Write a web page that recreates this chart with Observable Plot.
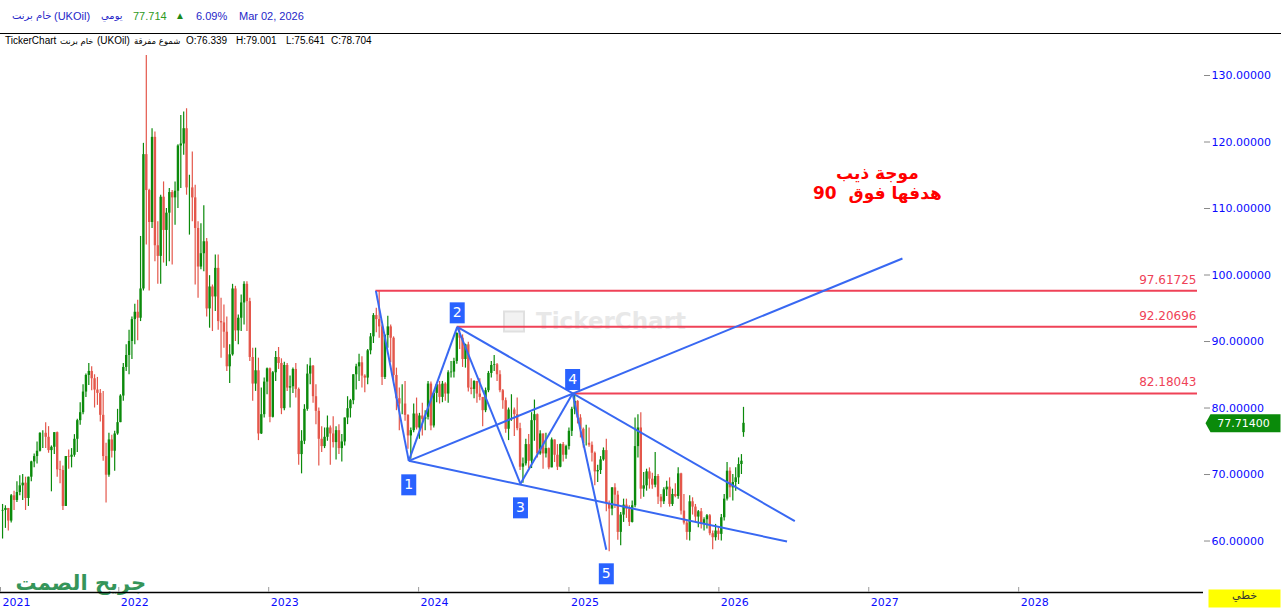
<!DOCTYPE html>
<html><head><meta charset="utf-8">
<script src="https://cdn.jsdelivr.net/npm/d3@7"></script>
<script src="https://cdn.jsdelivr.net/npm/@observablehq/plot@0.6"></script>
<style>
html,body{margin:0;padding:0;background:#fff;}
#hdr{position:relative;width:1281px;height:50px;font-family:"Liberation Sans","DejaVu Sans",sans-serif;overflow:hidden;background:#fff}
#hdr span{position:absolute;white-space:nowrap}
.r1{top:9px;font-size:11px;line-height:14px;color:#2626c8}
.r2{top:35px;font-size:10px;line-height:12px;color:#000}
.ar1{font-family:"DejaVu Sans";font-size:10px}
.ar2{font-family:"DejaVu Sans";font-size:8.5px}
#sep{position:absolute;left:0;top:33px;width:1281px;height:1px;background:#000}
#chart svg{display:block}
</style></head><body>
<div id="hdr">
  <span class="r1 ar1" style="left:12px">خام برنت</span>
  <span class="r1" style="left:54px">(UKOil)</span>
  <span class="r1 ar1" style="left:101px">يومي</span>
  <span class="r1" style="left:133px;color:#2e9a1e">77.714</span>
  <span class="r1" style="left:175px;color:#1a8a1a;font-size:10px">▲</span>
  <span class="r1" style="left:196px">6.09%</span>
  <span class="r1" style="left:239px">Mar 02, 2026</span>
  <div id="sep"></div>
  <span class="r2" style="left:5px">TickerChart</span>
  <span class="r2 ar2" style="left:60px">خام برنت</span>
  <span class="r2" style="left:97px">(UKOil)</span>
  <span class="r2 ar2" style="left:134px">شموع مفرقة</span>
  <span class="r2" style="left:186px">O:76.339</span>
  <span class="r2" style="left:236px">H:79.001</span>
  <span class="r2" style="left:286px">L:75.641</span>
  <span class="r2" style="left:331px">C:78.704</span>
</div>
<div id="chart"></div>
<script>
// ---- Weekly candles (Monday of each week), UKOil ----
const weekStart = "2021-03-22";
const weekOpen = [
 64.5,64.6,64.9,63.0,66.8,66.1,67.3,68.3,68.7,66.4,69.6,71.9,72.7,73.5,76.2,76.2,75.6,73.6,74.1,76.3,70.7,70.6,65.2,72.7,72.6,72.9,75.3,78.1,79.3,82.4,84.9,85.5,84.4,82.7,82.2,78.9,72.7,69.9,75.2,73.5,76.1,
 77.8,81.8,86.1,87.9,90.0,93.3,94.4,93.5,97.9,118.1,112.7,107.9,120.7,104.4,102.8,111.7,106.7,109.3,112.4,111.6,112.6,119.4,119.7,122.0,113.1,113.1,111.6,107.0,101.2,103.2,105.0,94.9,98.2,96.7,101.0,93.0,92.8,91.4,86.2,88.0,97.9,91.6,93.5,95.8,98.6,96.0,87.6,83.6,85.6,76.1,79.0,83.9,
 85.9,78.6,85.3,87.6,86.7,79.9,86.4,83.0,83.2,85.8,82.8,73.0,75.0,79.8,85.1,86.3,81.7,79.5,75.3,74.2,75.6,77.0,76.1,74.8,76.6,73.9,74.9,78.5,79.9,81.1,85.0,86.2,86.8,84.8,84.5,88.6,90.7,93.9,93.3,92.2,84.6,90.9,92.2,90.5,84.9,81.4,80.6,80.6,78.9,75.8,76.6,79.1,
 77.0,78.8,78.3,78.6,83.6,77.3,82.2,83.5,81.6,83.6,82.1,85.3,85.4,87.0,91.2,90.5,87.3,89.5,83.0,82.8,84.0,82.1,81.6,79.6,82.6,85.2,86.4,86.5,85.0,82.6,81.1,76.8,79.7,79.7,79.0,76.9,71.1,71.6,74.5,72.0,78.1,79.0,73.1,76.1,73.1,73.9,71.0,75.2,72.9,71.1,74.5,72.9,74.2,
 76.5,79.8,81.0,78.5,76.8,74.7,74.7,74.4,73.2,70.4,70.6,72.2,73.6,65.6,64.8,68.0,66.9,61.3,63.9,65.4,64.8,62.8,65.3,74.2,77.0,67.8,68.3,70.4,69.3,68.4,69.7,66.6,65.9,67.7,68.1,65.5,67.0,66.7,70.1,64.5,62.7,61.3,65.9,65.1,63.6,64.4,62.6,63.2,63.8,61.1,60.5,61.5,
 61.0,63.5,66.3,70.5,68.0,68.8,69.5,71.5,76.3
];
const weekHigh = [
 65.5,65.3,64.9,67.0,67.5,68.9,69.8,70.0,69.6,69.6,72.0,73.1,74.9,76.3,76.6,77.8,77.2,74.3,76.3,76.4,72.0,71.3,72.7,73.7,73.9,76.0,78.3,80.8,83.5,85.1,86.7,86.2,85.0,84.6,82.8,82.5,74.7,76.2,75.9,76.5,79.8,
 82.0,86.7,89.5,91.7,93.7,95.6,96.2,105.8,119.8,133.0,112.9,122.0,121.5,108.0,112.0,114.0,110.0,113.0,112.7,114.0,119.6,124.0,124.5,125.0,115.0,118.5,113.5,108.0,107.7,110.4,105.5,99.9,98.5,103.0,103.0,96.5,95.5,93.7,89.5,98.6,98.3,94.0,97.0,99.0,99.0,96.5,89.0,89.0,87.5,83.0,84.5,86.0,
 86.0,85.5,88.5,89.1,87.4,86.9,86.7,84.8,86.0,86.7,83.0,76.6,80.5,86.5,87.5,86.4,83.5,80.0,77.2,77.0,78.8,77.3,78.7,77.2,77.5,76.0,78.5,81.7,81.3,85.0,86.6,88.1,87.7,85.0,88.8,91.2,94.2,95.0,97.6,92.5,91.0,93.8,92.5,90.7,86.0,83.0,83.5,84.0,79.0,77.0,80.6,81.5,
 79.2,80.7,79.6,84.0,83.9,82.3,83.6,84.0,84.0,83.8,85.6,87.0,87.5,91.3,92.2,91.0,89.6,89.9,84.4,84.1,84.0,84.4,81.6,83.0,85.5,87.0,87.9,86.7,85.6,82.8,81.5,80.0,82.0,80.0,81.5,77.7,72.5,75.3,76.0,79.3,81.2,79.1,76.6,76.1,76.2,74.0,75.5,75.2,74.5,74.6,74.8,74.4,77.0,
 80.1,82.2,81.1,79.0,77.0,77.4,77.0,74.9,73.4,71.4,72.7,74.0,75.3,66.0,68.0,68.6,67.5,64.3,66.3,66.3,65.3,66.0,78.5,79.0,79.3,70.3,70.8,71.0,70.2,73.3,70.0,67.0,68.0,69.0,69.5,67.8,68.6,71.0,70.2,67.0,63.0,66.8,66.5,65.5,64.6,64.9,63.5,64.0,64.0,61.5,62.5,62.0,
 64.0,67.0,71.8,71.0,70.0,71.0,72.5,73.0,80.1
];
const weekLow = [
 60.3,61.9,61.5,62.7,64.6,65.8,66.8,66.1,64.6,65.2,68.9,71.0,71.6,73.4,73.9,73.9,73.2,67.4,73.0,69.6,68.6,64.6,65.2,70.8,71.0,72.6,73.3,77.4,79.0,81.6,83.4,82.6,80.0,80.4,77.9,72.0,65.7,69.6,72.5,70.5,75.9,
 77.8,81.0,85.5,85.0,87.3,89.5,90.1,93.0,97.6,104.5,97.6,107.0,102.0,98.6,98.6,101.8,101.3,102.0,101.5,107.5,110.0,113.0,118.0,112.0,106.0,108.0,98.5,96.5,100.8,100.5,93.7,92.0,91.5,94.5,91.7,87.5,89.0,85.5,83.7,87.8,90.0,89.5,91.5,92.5,91.5,87.0,81.0,82.5,75.1,76.0,78.5,82.0,
 77.8,78.5,84.0,85.8,79.0,79.6,82.5,80.0,82.2,81.5,71.4,70.1,74.5,79.5,83.5,80.7,77.5,71.3,73.3,73.9,75.0,71.4,74.0,72.2,73.0,71.9,74.3,77.5,78.5,80.5,82.7,84.0,83.0,82.3,83.5,88.0,89.7,91.3,90.5,83.4,84.3,89.0,86.8,84.0,79.6,76.6,79.0,78.0,73.8,72.3,76.3,76.7,
 75.3,75.8,76.6,78.2,76.6,77.0,80.8,80.6,80.8,81.0,80.7,84.5,84.5,86.6,88.8,86.1,86.0,82.4,82.0,81.4,80.7,81.1,77.2,79.3,82.3,84.5,85.5,84.0,82.3,79.8,76.2,75.1,78.0,75.7,76.6,70.6,68.7,71.3,70.9,70.9,75.0,72.5,72.9,70.8,72.5,70.7,71.0,71.8,70.6,71.0,71.9,72.3,73.7,
 75.7,79.0,77.6,75.5,74.0,74.3,74.1,71.9,68.3,68.8,70.0,72.0,64.4,58.4,63.8,64.9,60.1,59.3,62.8,63.4,62.2,62.7,65.0,72.5,66.3,66.6,67.5,67.8,67.8,68.0,65.5,65.0,65.5,66.7,65.1,65.2,66.5,66.3,63.9,62.4,60.1,60.0,63.9,62.8,62.0,61.8,61.5,61.8,60.8,58.7,60.0,60.1,
 60.0,63.0,66.0,66.5,66.0,67.5,68.5,70.0,75.6
];
const weekClose = [
 64.6,64.9,63.0,66.8,66.1,67.3,68.3,68.7,66.4,69.6,71.9,72.7,73.5,76.2,76.2,75.6,73.6,74.1,76.3,70.7,70.6,65.2,72.7,72.6,72.9,75.3,78.1,79.3,82.4,84.9,85.5,84.4,82.7,82.2,78.9,72.7,69.9,75.2,73.5,76.1,77.8,
 81.8,86.1,87.9,90.0,93.3,94.4,93.5,97.9,118.1,112.7,107.9,120.7,104.4,102.8,111.7,106.7,109.3,112.4,111.6,112.6,119.4,119.7,122.0,113.1,113.1,111.6,107.0,101.2,103.2,105.0,94.9,98.2,96.7,101.0,93.0,92.8,91.4,86.2,88.0,97.9,91.6,93.5,95.8,98.6,96.0,87.6,83.6,85.6,76.1,79.0,83.9,85.9,
 78.6,85.3,87.6,86.7,79.9,86.4,83.0,83.2,85.8,82.8,73.0,75.0,79.8,85.1,86.3,81.7,79.5,75.3,74.2,75.6,77.0,76.1,74.8,76.6,73.9,74.9,78.5,79.9,81.1,85.0,86.2,86.8,84.8,84.5,88.6,90.7,93.9,93.3,92.2,84.6,90.9,92.2,90.5,84.9,81.4,80.6,80.6,78.9,75.8,76.6,79.1,77.0,
 78.8,78.3,78.6,83.6,77.3,82.2,83.5,81.6,83.6,82.1,85.3,85.4,87.0,91.2,90.5,87.3,89.5,83.0,82.8,84.0,82.1,81.6,79.6,82.6,85.2,86.4,86.5,85.0,82.6,81.1,76.8,79.7,79.7,79.0,76.9,71.1,71.6,74.5,72.0,78.1,79.0,73.1,76.1,73.1,73.9,71.0,75.2,72.9,71.1,74.5,72.9,74.2,76.5,
 79.8,81.0,78.5,76.8,74.7,74.7,74.4,73.2,70.4,70.6,72.2,73.6,65.6,64.8,68.0,66.9,61.3,63.9,65.4,64.8,62.8,65.3,74.2,77.0,67.8,68.3,70.4,69.3,68.4,69.7,66.6,65.9,67.7,68.1,65.5,67.0,66.7,70.1,64.5,62.7,61.3,65.9,65.1,63.6,64.4,62.6,63.2,63.8,61.1,60.5,61.5,61.0,
 63.5,66.3,70.5,68.0,68.8,69.5,71.5,72.0,77.7
];

// ---- Wolfe wave drawing ----
const waveLabels = ["0", "1", "2", "3", "4", "5"];
const waveDates  = ["2023-09-19", "2023-12-08", "2024-04-04", "2024-09-05", "2025-01-10", "2025-04-02"];
const waveValues = [97.61725, 72.06, 92.20696, 68.6, 82.18043, 58.68];
// extension end points: 1-4 line, 2-4 line, 1-3 line
const extDates  = ["2027-03-24", "2026-07-05", "2026-06-16"];
const extValues = [102.48, 62.98, 59.93];
const levelValues = [97.61725, 92.20696, 82.18043];

const yTicks = [60, 70, 80, 90, 100, 110, 120, 130];
const tickYears = ["2022", "2023", "2024", "2025", "2026", "2027", "2028"];
const currentPrice = 77.714;
const noteText = "موجة ذيب\nهدفها فوق  90";
const noteDate = "2027-01-22", noteValue = 113.9;
const signature = "جريح الصمت";
const chartTypeLabel = "خطي";

// ---- build ----
const DAY = 864e5;
const t0 = Date.parse(weekStart + "T00:00:00Z");
const n = weekOpen.length;
if (![weekHigh, weekLow, weekClose].every(a => a.length === n)) console.error("length mismatch");
const candles = weekOpen.map((o, i) => ({
  date: new Date(t0 + i * 7 * DAY + (i < n - 1 ? 2 * DAY : 0)),
  open: o, high: weekHigh[i], low: weekLow[i], close: weekClose[i]
}));
const utc = s => new Date(s + "T00:00:00Z");
const pts = waveDates.map((d, i) => ({label: waveLabels[i], date: utc(d), value: waveValues[i]}));
const ext = extDates.map((d, i) => ({date: utc(d), value: extValues[i]}));
const segs = [[pts[0], pts[1]], [pts[1], pts[2]], [pts[2], pts[3]], [pts[3], pts[4]], [pts[4], pts[5]],
              [pts[1], ext[0]], [pts[2], ext[1]], [pts[1], ext[2]]];
const levels = levelValues.map((v, i) => ({value: v, date: pts[i * 2].date}));
const troughs = pts.filter((d, i) => i % 2 === 1);
const peaks = pts.filter((d, i) => i > 0 && i % 2 === 0);

const xDomain = [utc("2021-03-19"), utc("2029-03-26")];
const yDomain = [52.26, 133.76];
const xTicks = [xDomain[0], ...tickYears.map(y => utc(y + "-01-01"))];

const UP = "#0b8a0b", DOWN = "#e4574b", BLUE = "#3868f2", RED = "#ef4257", BOX = "#2962ff";
const rectSymbol = (w, h) => ({draw(ctx) { ctx.moveTo(-w/2, -h/2); ctx.lineTo(w/2, -h/2); ctx.lineTo(w/2, h/2); ctx.lineTo(-w/2, h/2); ctx.closePath(); }});
const tagSymbol = {draw(ctx) { ctx.moveTo(0, 0); ctx.lineTo(5, -9); ctx.lineTo(75, -9); ctx.lineTo(75, 9); ctx.lineTo(5, 9); ctx.closePath(); }};
const col = d => d.close >= d.open ? UP : DOWN;

const chart = Plot.plot({
  width: 1281, height: 562,
  marginLeft: 0, marginRight: 78, marginTop: 0, marginBottom: 20,
  style: {fontFamily: "DejaVu Sans", fontSize: "11px", background: "#fff", overflow: "visible"},
  x: {type: "utc", domain: xDomain},
  y: {domain: yDomain},
  marks: [
    // TickerChart watermark
    Plot.dot([0], {frameAnchor: "middle", dx: -88, r: 5, symbol: rectSymbol(20, 20), fill: "#f2f2f2", stroke: "#e0e0e0", strokeWidth: 2}),
    Plot.text(["TickerChart"], {frameAnchor: "middle", dx: 9, textAnchor: "middle", fontSize: 23, fontWeight: "bold", fill: "#e8e8e8"}),
    // candles
    Plot.ruleX(candles, {x: "date", y1: "low", y2: "high", stroke: col, strokeWidth: 1.2}),
    Plot.ruleX(candles, {x: "date", y1: "open", y2: "close", stroke: col, strokeWidth: 2.4}),
    // horizontal levels
    Plot.ruleY(levels, {y: "value", x1: "date", x2: () => xDomain[1], insetRight: 6, stroke: RED, strokeWidth: 2}),
    Plot.text(levels, {y: "value", frameAnchor: "right", dx: -7, dy: -11, textAnchor: "end", text: d => d.value.toFixed(5), fill: RED, fontSize: 12}),
    // wave lines
    Plot.link(segs, {x1: d => d[0].date, y1: d => d[0].value, x2: d => d[1].date, y2: d => d[1].value, stroke: BLUE, strokeWidth: 2}),
    // numbered boxes
    Plot.dot(troughs, {x: "date", y: "value", dy: 24, r: 5, symbol: rectSymbol(15, 21), fill: BOX}),
    Plot.text(troughs, {x: "date", y: "value", dy: 24, text: "label", fill: "#fff", fontSize: 14}),
    Plot.dot(peaks, {x: "date", y: "value", dy: -14, r: 5, symbol: rectSymbol(15, 21), fill: BOX}),
    Plot.text(peaks, {x: "date", y: "value", dy: -14, text: "label", fill: "#fff", fontSize: 14}),
    // annotation
    Plot.text([noteText], {x: () => utc(noteDate), y: () => noteValue, text: d => d, fill: "#ff0000", fontSize: 17, fontWeight: "bold", lineHeight: 1.2}),
    // signature
    Plot.text([signature], {frameAnchor: "bottom-left", dx: 15, dy: -3, textAnchor: "start", lineAnchor: "bottom", fill: "#35955a", fontSize: 21, fontWeight: "bold"}),
    // bottom axis line + ticks
    Plot.ruleY([yDomain[0]], {stroke: "#000", strokeWidth: 1.5}),
    Plot.ruleX(xTicks, {x: d => d, insetTop: 537, stroke: "#9a9a9a"}),
    Plot.axisX(xTicks, {anchor: "bottom", tickSize: 0, tickPadding: 6, textAnchor: "start", dx: 2, tickFormat: d3.utcFormat("%Y"), fill: "#0a0aff", label: null, fontSize: 11}),
    Plot.axisY(yTicks, {anchor: "right", tickSize: 6, tickPadding: 2, stroke: "#8a8a8a", fill: "#0a0aff", tickFormat: d => d.toFixed(5), label: null, fontSize: 11}),
    // current price tag
    Plot.dot([currentPrice], {y: d => d, frameAnchor: "right", dx: 2, r: 5, symbol: tagSymbol, fill: "#0a8a0a"}),
    Plot.text([currentPrice], {y: d => d, frameAnchor: "right", dx: 40, textAnchor: "middle", text: d => d.toFixed(5), fill: "#fff", fontSize: 11}),
    // chart type box
    Plot.dot([0], {frameAnchor: "bottom-right", dx: 41, dy: 6, r: 5, symbol: rectSymbol(72, 18), fill: "#ffff00"}),
    Plot.text([chartTypeLabel], {frameAnchor: "bottom-right", dx: 41, dy: 6, textAnchor: "middle", fill: "#333", fontSize: 11})
  ]
});
document.getElementById("chart").appendChild(chart);
</script>
</body></html>
